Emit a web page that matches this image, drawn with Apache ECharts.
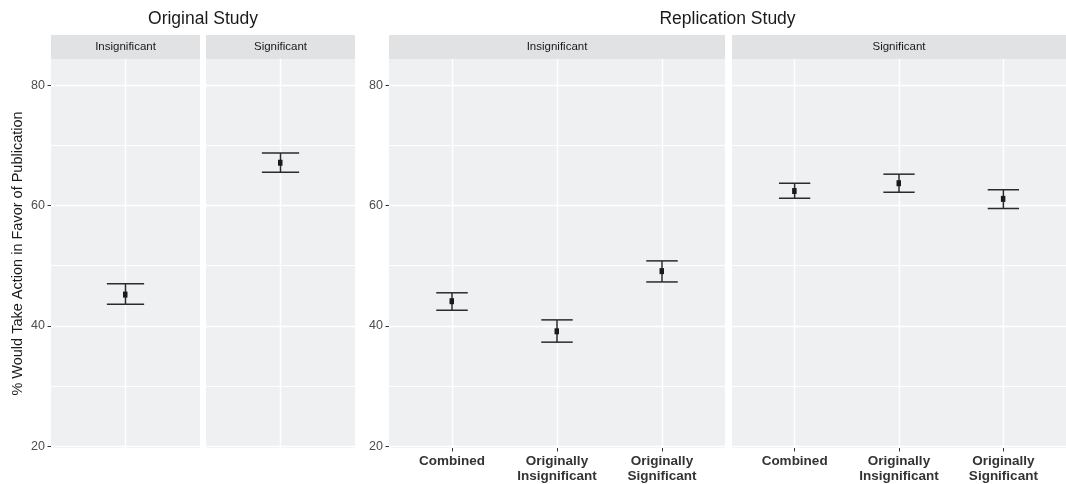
<!DOCTYPE html>
<html>
<head>
<meta charset="utf-8">
<script src="https://cdn.jsdelivr.net/npm/echarts@6/dist/echarts.min.js"></script>
<style>
html,body{margin:0;padding:0;background:#fff;}
#c{width:1066px;height:484px;}
</style>
</head>
<body>
<div id="c"></div>
<script>
// ---- data ----
const studyTitles = ['Original Study', 'Replication Study'];
const facetLabels = ['Insignificant', 'Significant'];
const repCategories = ['Combined', 'Originally\nInsignificant', 'Originally\nSignificant'];
const yTicks = [20, 40, 60, 80];
const yMinorTicks = [30, 50, 70];
const yTitle = '% Would Take Action in Favor of Publication';

// Original study: one point per facet
const origInsigMean = [45.2];
const origInsigLo = [43.6];
const origInsigHi = [47.0];
const origSigMean = [67.1];
const origSigLo = [65.5];
const origSigHi = [68.7];

// Replication study
const repInsigMean = [44.1, 39.1, 49.1];
const repInsigLo = [42.6, 37.3, 47.3];
const repInsigHi = [45.5, 41.0, 50.8];
const repSigMean = [62.4, 63.7, 61.1];
const repSigLo = [61.2, 62.2, 59.5];
const repSigHi = [63.7, 65.2, 62.6];

// ---- layout ----
const FONT = '"Liberation Sans", Arial, Helvetica, sans-serif';
const panels = [
  {left: 51, width: 149},
  {left: 206, width: 149},
  {left: 389, width: 336},
  {left: 732, width: 334}
];
const TOP = 59, BOTTOM_Y = 448, STRIP_TOP = 35;
const Y_MIN = 19.72, Y_MAX = 84.33;
const PANEL_BG = '#EFF0F2', STRIP_BG = '#E1E2E4';

function build(mean, lo, hi) {
  return mean.map((m, i) => [i + 1, m, lo[i], hi[i]]);
}
const seriesData = [
  build(origInsigMean, origInsigLo, origInsigHi),
  build(origSigMean, origSigLo, origSigHi),
  build(repInsigMean, repInsigLo, repInsigHi),
  build(repSigMean, repSigLo, repSigHi)
];

function renderItem(params, api) {
  const x = api.value(0), m = api.value(1), lo = api.value(2), hi = api.value(3);
  const pTop = api.coord([x, hi]);
  const pBot = api.coord([x, lo]);
  const pM = api.coord([x, m]);
  const cl = api.coord([x - 0.15, hi])[0];
  const cr = api.coord([x + 0.15, hi])[0];
  const st = {stroke: '#2b2b2b', lineWidth: 1.5};
  return {
    type: 'group',
    children: [
      {type: 'line', shape: {x1: pTop[0], y1: pTop[1], x2: pBot[0], y2: pBot[1]}, style: st},
      {type: 'line', shape: {x1: cl, y1: pTop[1], x2: cr, y2: pTop[1]}, style: st},
      {type: 'line', shape: {x1: cl, y1: pBot[1], x2: cr, y2: pBot[1]}, style: st},
      {type: 'rect', shape: {x: pM[0] - 2.5, y: pM[1] - 3, width: 4.5, height: 6}, style: {fill: '#1a1a1a'}}
    ]
  };
}

const grids = [], xAxes = [], yAxes = [], series = [], graphics = [];
panels.forEach((p, i) => {
  grids.push({
    left: p.left, width: p.width, top: TOP, height: BOTTOM_Y - TOP,
    show: true, backgroundColor: PANEL_BG, borderWidth: 0
  });
  const isRep = i >= 2;
  const xVals = isRep ? [1, 2, 3] : [1];
  xAxes.push({
    type: 'value', gridIndex: i, min: 0.4, max: isRep ? 3.6 : 1.6,
    axisLine: {show: false},
    axisTick: {show: isRep, customValues: xVals, length: 3.5, lineStyle: {color: '#333333', width: 1}},
    axisLabel: {
      show: isRep, customValues: xVals, margin: 6,
      formatter: v => repCategories[Math.round(v) - 1] || '',
      fontFamily: FONT, fontSize: 13.5, fontWeight: 'bold', color: '#333333', lineHeight: 15
    },
    splitLine: {show: true, lineStyle: {color: '#ffffff', width: 1.4}}
  });
  const showY = (i === 0 || i === 2);
  // major y axis
  yAxes.push({
    type: 'value', gridIndex: i, min: Y_MIN, max: Y_MAX,
    axisLine: {show: false},
    axisTick: {show: showY, customValues: yTicks, length: 3.5, lineStyle: {color: '#333333', width: 1}},
    axisLabel: {show: showY, customValues: yTicks, margin: 6, fontFamily: FONT, fontSize: 12.5, color: '#4D4D4D'},
    splitLine: {show: true, lineStyle: {color: '#ffffff', width: 1.4}}
  });
  // minor y axis (grid lines only)
  yAxes.push({
    type: 'value', gridIndex: i, min: Y_MIN, max: Y_MAX, position: 'left',
    axisLine: {show: false},
    axisTick: {show: false, customValues: yMinorTicks},
    axisLabel: {show: false, customValues: yMinorTicks},
    splitLine: {show: true, lineStyle: {color: '#ffffff', width: 0.9}}
  });
  series.push({
    type: 'custom', xAxisIndex: i, yAxisIndex: i * 2,
    renderItem: renderItem, data: seriesData[i], z: 5, silent: true
  });
  // strip
  graphics.push({
    type: 'rect', left: p.left, top: STRIP_TOP,
    shape: {width: p.width, height: TOP - STRIP_TOP},
    style: {fill: STRIP_BG}
  });
  graphics.push({
    type: 'text', x: p.left + p.width / 2, y: (STRIP_TOP + TOP) / 2,
    style: {text: facetLabels[i % 2], fontFamily: FONT, fontSize: 11.5, fill: '#1a1a1a', align: 'center', verticalAlign: 'middle'}
  });
});

// study titles
graphics.push({
  type: 'text', x: (panels[0].left + panels[1].left + panels[1].width) / 2, y: 19,
  style: {text: studyTitles[0], fontFamily: FONT, fontSize: 17.5, fill: '#1a1a1a', align: 'center', verticalAlign: 'middle'}
});
graphics.push({
  type: 'text', x: (panels[2].left + panels[3].left + panels[3].width) / 2, y: 19,
  style: {text: studyTitles[1], fontFamily: FONT, fontSize: 17.5, fill: '#1a1a1a', align: 'center', verticalAlign: 'middle'}
});
// y title
graphics.push({
  type: 'text', x: 18, y: (TOP + BOTTOM_Y) / 2, rotation: Math.PI / 2,
  style: {text: yTitle, fontFamily: FONT, fontSize: 14.5, fill: '#1a1a1a', align: 'center', verticalAlign: 'middle'}
});

const chart = echarts.init(document.getElementById('c'), null, {renderer: 'canvas'});
chart.setOption({
  animation: false,
  backgroundColor: '#ffffff',
  grid: grids,
  xAxis: xAxes,
  yAxis: yAxes,
  series: series,
  graphic: graphics
});
</script>
</body>
</html>
